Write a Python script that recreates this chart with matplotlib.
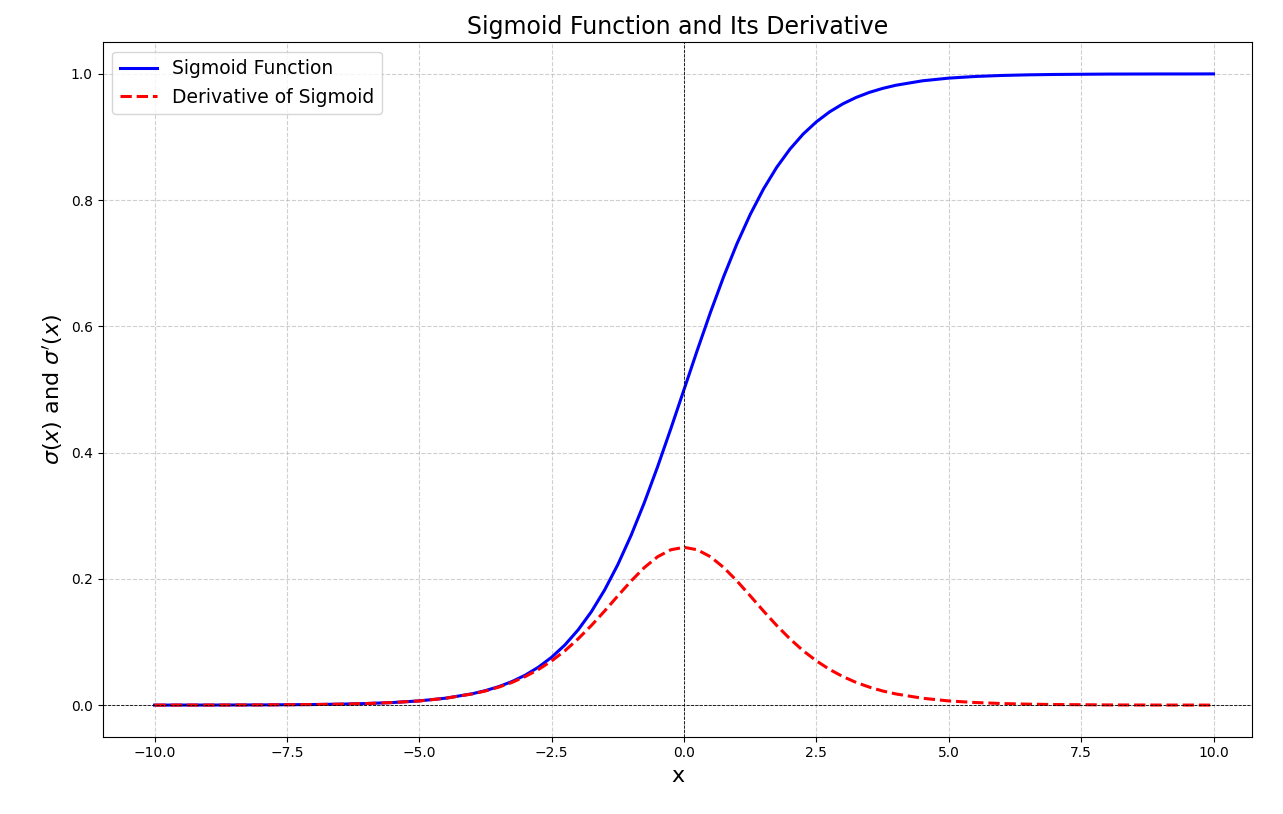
import matplotlib
matplotlib.use("Agg")
import matplotlib.pyplot as plt

x_pos = [0.0, 0.25, 0.5, 0.75, 1.0, 1.25, 1.5, 1.75, 2.0, 2.25, 2.5, 2.75, 3.0, 3.25, 3.5, 3.75, 4.0,
         4.5, 5.0, 5.5, 6.0, 6.5, 7.0, 7.5, 8.0, 8.5, 9.0, 9.5, 10.0]
sig_pos = [0.5, 0.5622, 0.6225, 0.6792, 0.7311, 0.7773, 0.8176, 0.8520, 0.8808, 0.9047, 0.9241,
           0.9399, 0.9526, 0.9627, 0.9707, 0.9770, 0.9820,
           0.9890, 0.9933, 0.9959, 0.9975, 0.9985, 0.9991, 0.9994, 0.9997, 0.9998, 0.9999, 0.9999, 1.0000]
der_pos = [0.25, 0.2461, 0.2350, 0.2179, 0.1966, 0.1731, 0.1491, 0.1261, 0.1050, 0.0861, 0.0701,
           0.0564, 0.0452, 0.0359, 0.0285, 0.0224, 0.0177,
           0.0109, 0.0066, 0.0041, 0.0025, 0.0015, 0.0009, 0.0006, 0.0003, 0.0002, 0.0001, 0.0001, 0.0000]

x = [-v for v in x_pos[:0:-1]] + x_pos
sig = [1 - v for v in sig_pos[:0:-1]] + sig_pos
der = der_pos[:0:-1] + der_pos

fig = plt.figure(figsize=(12.83, 8.14), dpi=100)
ax = fig.add_axes([0.080, 0.095, 0.896, 0.853])
ax.plot(x, sig, color="blue", lw=2.2, label="Sigmoid Function")
ax.plot(x, der, color="red", lw=2.2, ls="--", label="Derivative of Sigmoid")
ax.axhline(0, color="black", lw=0.6, ls="--")
ax.axvline(0, color="black", lw=0.6, ls="--")
ax.set_xlim(-10.98, 10.73)
ax.set_title("Sigmoid Function and Its Derivative", fontsize=17)
ax.set_xlabel("x", fontsize=16)
ax.set_ylabel(r"$\sigma(x)$ and $\sigma'(x)$", fontsize=16)
ax.grid(True, ls="--", alpha=0.6)
ax.legend(fontsize=13.5, loc="upper left")
fig.savefig("out.png", dpi=100)
